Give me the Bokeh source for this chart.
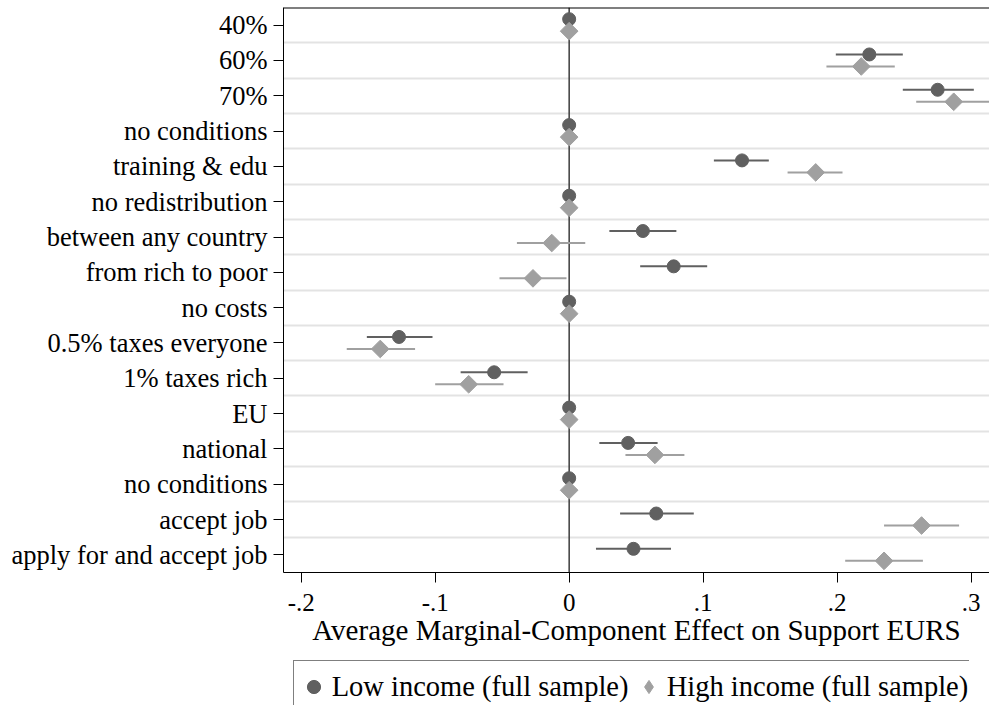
import math
from bokeh.plotting import figure
from bokeh.layouts import column
from bokeh.models import FixedTicker, Span, Legend, LegendItem, ColumnDataSource
from bokeh.embed import file_html
from bokeh.resources import INLINE

# ---------------- data (top to bottom) ----------------
categories = ["40%", "60%", "70%", "no conditions", "training & edu",
              "no redistribution", "between any country", "from rich to poor",
              "no costs", "0.5% taxes everyone", "1% taxes rich",
              "EU", "national", "no conditions", "accept job",
              "apply for and accept job"]

low_coef = [0, 0.224, 0.275, 0, 0.129, 0, 0.055, 0.078, 0, -0.127, -0.056, 0, 0.044, 0, 0.065, 0.048]
low_lo   = [0, 0.199, 0.249, 0, 0.108, 0, 0.030, 0.053, 0, -0.151, -0.081, 0, 0.0225, 0, 0.038, 0.020]
low_hi   = [0, 0.249, 0.302, 0, 0.149, 0, 0.080, 0.103, 0, -0.102, -0.031, 0, 0.066, 0, 0.093, 0.076]

high_coef = [0, 0.218, 0.287, 0, 0.184, 0, -0.013, -0.027, 0, -0.141, -0.075, 0, 0.064, 0, 0.263, 0.235]
high_lo   = [0, 0.192, 0.259, 0, 0.163, 0, -0.039, -0.052, 0, -0.166, -0.100, 0, 0.042, 0, 0.235, 0.206]
high_hi   = [0, 0.243, 0.315, 0, 0.204, 0, 0.012, -0.002, 0, -0.115, -0.049, 0, 0.086, 0, 0.291, 0.264]

x_ticks = [-0.2, -0.1, 0, 0.1, 0.2, 0.3]
x_tick_labels = ["-.2", "-.1", "0", ".1", ".2", ".3"]

series_names = ["Low income (full sample)", "High income (full sample)"]
x_title = "Average Marginal-Component Effect on Support EURS"

# ---------------- styling ----------------
LOW = "#606060"
HIGH = "#a0a0a0"
FONT = "Liberation Serif"
n = len(categories)
ypos = [n - 1 - i for i in range(n)]
OFF = 0.17

src_low = ColumnDataSource(dict(y=[v + OFF for v in ypos], coef=low_coef, lo=low_lo, hi=low_hi))
src_high = ColumnDataSource(dict(y=[v - OFF for v in ypos], coef=high_coef, lo=high_lo, hi=high_hi))

p = figure(width=989, height=657, x_range=(-0.2132, 0.3137), y_range=(-0.5, n - 0.5),
           output_backend="svg", toolbar_location=None,
           min_border_left=283, min_border_right=0, min_border_top=7, min_border_bottom=85)
p.outline_line_color = None
p.background_fill_color = "white"
p.border_fill_color = "white"

# grid lines between categories
p.xgrid.visible = False
p.ygrid.ticker = FixedTicker(ticks=[i + 0.5 for i in range(n - 1)])
p.ygrid.grid_line_color = "#e3e3e3"
p.ygrid.grid_line_width = 2

# zero line
p.add_layout(Span(location=0, dimension="height", line_color="#3c3c3c",
                  line_width=1.5, level="underlay"))
# top border of the plot region
p.add_layout(Span(location=n - 0.5, dimension="width", line_color="black", line_width=2))

# confidence intervals and point estimates
p.segment(x0="lo", y0="y", x1="hi", y1="y", source=src_low, line_color=LOW, line_width=2)
p.segment(x0="lo", y0="y", x1="hi", y1="y", source=src_high, line_color=HIGH, line_width=2)
p.scatter(x="coef", y="y", source=src_low, marker="circle", size=13,
          fill_color=LOW, line_color=LOW)
p.scatter(x="coef", y="y", source=src_high, marker="square", angle=math.pi / 4,
          size=12.5, fill_color=HIGH, line_color=HIGH)

# axes
p.yaxis.ticker = FixedTicker(ticks=ypos)
p.yaxis.major_label_overrides = {ypos[i]: categories[i] for i in range(n)}
p.yaxis.major_label_text_font = FONT
p.yaxis.major_label_text_font_size = "26.5px"
p.yaxis.major_label_text_color = "black"
p.yaxis.major_label_standoff = 6
p.yaxis.major_tick_out = 10
p.yaxis.major_tick_in = 0
p.yaxis.minor_tick_line_color = None
p.yaxis.axis_line_color = "black"
p.yaxis.major_tick_line_color = "black"

p.xaxis.ticker = FixedTicker(ticks=x_ticks)
p.xaxis.major_label_overrides = {x_ticks[i]: x_tick_labels[i] for i in range(len(x_ticks))}
p.xaxis.major_label_text_font = FONT
p.xaxis.major_label_text_font_size = "25px"
p.xaxis.major_label_text_color = "black"
p.xaxis.major_label_standoff = 11
p.xaxis.major_tick_out = 10
p.xaxis.major_tick_in = 0
p.xaxis.minor_tick_line_color = None
p.xaxis.axis_line_color = "black"
p.xaxis.major_tick_line_color = "black"
p.xaxis.axis_label = x_title
p.xaxis.axis_label_text_font = FONT
p.xaxis.axis_label_text_font_size = "29px"
p.xaxis.axis_label_text_font_style = "normal"
p.xaxis.axis_label_text_color = "black"
p.xaxis.axis_label_standoff = 0

# ---------------- legend strip below the chart ----------------
# (x range placed away from the data so the key renderers draw nothing here)
p2 = figure(width=969, height=48, x_range=(1, 2), y_range=(0, 1),
            output_backend="svg", toolbar_location=None,
            x_axis_location=None, y_axis_location=None,
            min_border_left=283, min_border_right=0, min_border_top=0, min_border_bottom=0)
p2.grid.visible = False
p2.outline_line_color = None
p2.background_fill_color = "white"
p2.border_fill_color = "white"

k_low = p2.scatter(x="coef", y="y", source=src_low, marker="circle", size=13,
                   fill_color=LOW, line_color=LOW)
k_high = p2.scatter(x="coef", y="y", source=src_high, marker="diamond",
                    size=13, fill_color=HIGH, line_color=HIGH)

legend = Legend(items=[LegendItem(label=series_names[0], renderers=[k_low]),
                       LegendItem(label=series_names[1], renderers=[k_high])],
                orientation="horizontal", location=(9.7, -8),
                padding=3, margin=0, spacing=0, label_standoff=2,
                glyph_width=33, glyph_height=45, label_width=300,
                label_text_font=FONT, label_text_font_size="28.5px",
                label_text_color="black",
                border_line_color="black", border_line_width=1.2,
                background_fill_alpha=0)
p2.add_layout(legend, "center")

open("out.html", "w").write(file_html(column(p, p2, spacing=0), INLINE))
